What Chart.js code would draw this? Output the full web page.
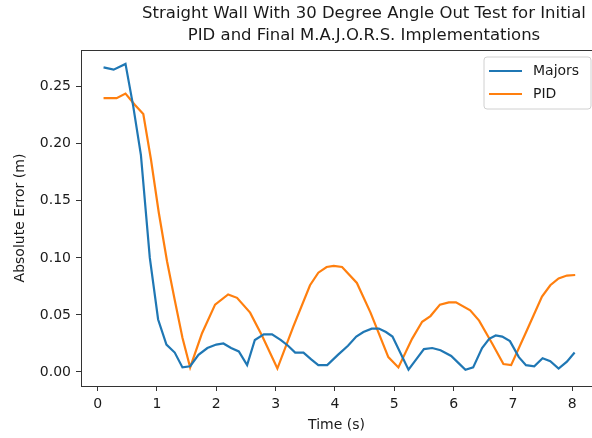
<!DOCTYPE html>
<html lang="en">
<head>
    <meta charset="UTF-8">
    <title>Straight Wall With 30 Degree Angle Out Test</title>
    <script src="https://cdn.jsdelivr.net/npm/chart.js"></script>
    <style>
        body { margin: 0; background: #fff; }
        canvas { display: block; }
    </style>
</head>
<body>
    <canvas id="errorChart" width="592" height="438"></canvas>

    <script>
        // data
        const majorsTime = [0.10, 0.27, 0.47, 0.60, 0.73, 0.88, 1.02, 1.16, 1.30, 1.43, 1.56, 1.70, 1.85, 2.00, 2.12,
            2.25, 2.38, 2.52, 2.65, 2.80, 2.94, 3.09, 3.21, 3.33, 3.47, 3.60, 3.72, 3.87, 4.05, 4.22, 4.36, 4.48, 4.62,
            4.74, 4.86, 4.97, 5.10, 5.24, 5.37, 5.50, 5.64, 5.78, 5.96, 6.08, 6.20, 6.33, 6.48, 6.60, 6.71, 6.82, 6.95,
            7.10, 7.22, 7.36, 7.50, 7.63, 7.77, 7.91, 8.04];
        const majorsError = [0.267, 0.265, 0.270, 0.233, 0.190, 0.100, 0.046, 0.024, 0.017, 0.004, 0.005, 0.015, 0.021,
            0.024, 0.025, 0.021, 0.018, 0.006, 0.028, 0.033, 0.033, 0.028, 0.023, 0.017, 0.017, 0.011, 0.006, 0.006, 0.015,
            0.023, 0.031, 0.035, 0.038, 0.038, 0.035, 0.031, 0.017, 0.002, 0.011, 0.020, 0.021, 0.019, 0.014, 0.008, 0.002,
            0.004, 0.021, 0.029, 0.032, 0.031, 0.027, 0.013, 0.006, 0.005, 0.012, 0.0095, 0.003, 0.009, 0.017];

        const pidTime = [0.10, 0.32, 0.47, 0.63, 0.77, 0.90, 1.03, 1.17, 1.30, 1.43, 1.56, 1.76, 1.98, 2.20, 2.35, 2.57,
            2.77, 3.03, 3.30, 3.58, 3.72, 3.86, 3.98, 4.12, 4.37, 4.60, 4.90, 5.07, 5.30, 5.47, 5.61, 5.77, 5.92, 6.04,
            6.28, 6.43, 6.65, 6.84, 6.97, 7.24, 7.49, 7.63, 7.77, 7.91, 8.05];
        const pidError = [0.240, 0.240, 0.244, 0.234, 0.226, 0.186, 0.140, 0.097, 0.063, 0.030, 0.004, 0.034, 0.059,
            0.068, 0.065, 0.052, 0.032, 0.003, 0.040, 0.076, 0.087, 0.092, 0.093, 0.092, 0.078, 0.052, 0.013, 0.004, 0.029,
            0.044, 0.049, 0.059, 0.061, 0.061, 0.054, 0.045, 0.025, 0.007, 0.006, 0.037, 0.066, 0.076, 0.082, 0.0845, 0.085];

        const xTicks = [0, 1, 2, 3, 4, 5, 6, 7, 8];
        const yTicks = [0.00, 0.05, 0.10, 0.15, 0.20, 0.25];

        const titleLines = ["Straight Wall With 30 Degree Angle Out Test for Initial",
            "PID and Final M.A.J.O.R.S. Implementations"];

        const textColor = "#1a1a1a";
        const font = "DejaVu Sans";

        // top spine, two-line title and legend box (matplotlib style)
        const decor = {
            id: "decor",
            afterDraw(chart) {
                const ctx = chart.ctx;
                const area = chart.chartArea;
                ctx.save();

                ctx.strokeStyle = "#333";
                ctx.lineWidth = 1;
                ctx.beginPath();
                ctx.moveTo(area.left, area.top + 0.5);
                ctx.lineTo(area.right, area.top + 0.5);
                ctx.stroke();

                ctx.fillStyle = textColor;
                ctx.font = "16.5px '" + font + "'";
                ctx.textAlign = "center";
                ctx.textBaseline = "alphabetic";
                ctx.fillText(titleLines[0], 364, 18);
                ctx.fillText(titleLines[1], 364, 40);

                // legend
                const bx = 484, by = 57, bw = 107, bh = 52, r = 3;
                ctx.fillStyle = "rgba(255,255,255,0.8)";
                ctx.strokeStyle = "#d0d0d0";
                ctx.beginPath();
                ctx.moveTo(bx + r, by);
                ctx.arcTo(bx + bw, by, bx + bw, by + bh, r);
                ctx.arcTo(bx + bw, by + bh, bx, by + bh, r);
                ctx.arcTo(bx, by + bh, bx, by, r);
                ctx.arcTo(bx, by, bx + bw, by, r);
                ctx.closePath();
                ctx.fill();
                ctx.stroke();

                ctx.font = "14px '" + font + "'";
                ctx.textAlign = "left";
                ctx.textBaseline = "middle";
                chart.data.datasets.forEach((ds, i) => {
                    const y = 71 + i * 23;
                    ctx.strokeStyle = ds.borderColor;
                    ctx.lineWidth = 2.2;
                    ctx.beginPath();
                    ctx.moveTo(489, y);
                    ctx.lineTo(522, y);
                    ctx.stroke();
                    ctx.fillStyle = textColor;
                    ctx.fillText(ds.label, 533, y);
                });
                ctx.restore();
            }
        };

        const tickStyle = { size: 14, family: font };

        new Chart(document.getElementById("errorChart"), {
            type: "line",
            data: {
                datasets: [{
                    label: "Majors",
                    data: majorsTime.map((t, i) => ({ x: t, y: majorsError[i] })),
                    borderColor: "#1f77b4",
                    borderWidth: 2.2,
                    pointRadius: 0,
                    tension: 0,
                    fill: false
                }, {
                    label: "PID",
                    data: pidTime.map((t, i) => ({ x: t, y: pidError[i] })),
                    borderColor: "#ff7f0e",
                    borderWidth: 2.2,
                    pointRadius: 0,
                    tension: 0,
                    fill: false
                }]
            },
            options: {
                responsive: false,
                animation: false,
                devicePixelRatio: 1,
                layout: { padding: { top: 50, right: 0, left: 0, bottom: 0 } },
                plugins: {
                    legend: { display: false },
                    tooltip: { enabled: false }
                },
                scales: {
                    x: {
                        type: "linear",
                        min: -0.28,
                        max: 8.333,
                        afterBuildTicks: s => { s.ticks = xTicks.map(v => ({ value: v })); },
                        afterFit: s => { s.height = 52; },
                        grid: { display: true, drawOnChartArea: false, drawTicks: true, tickLength: 5, color: "#333" },
                        border: { display: true, color: "#333", width: 1 },
                        ticks: { color: textColor, font: tickStyle, padding: 5, maxRotation: 0, autoSkip: false },
                        title: { display: true, text: "Time (s)", color: textColor, font: tickStyle, padding: { top: 0, bottom: 4 } }
                    },
                    y: {
                        min: -0.0123,
                        max: 0.2822,
                        afterBuildTicks: s => { s.ticks = yTicks.map(v => ({ value: v })); },
                        afterFit: s => { s.width = 81; },
                        grid: { display: true, drawOnChartArea: false, drawTicks: true, tickLength: 5, color: "#333" },
                        border: { display: true, color: "#333", width: 1 },
                        ticks: { color: textColor, font: tickStyle, padding: 5, autoSkip: false, callback: v => v.toFixed(2) },
                        title: { display: true, text: "Absolute Error (m)", color: textColor, font: tickStyle, padding: { top: 12, bottom: 0 } }
                    }
                }
            },
            plugins: [decor]
        });
    </script>
</body>
</html>
